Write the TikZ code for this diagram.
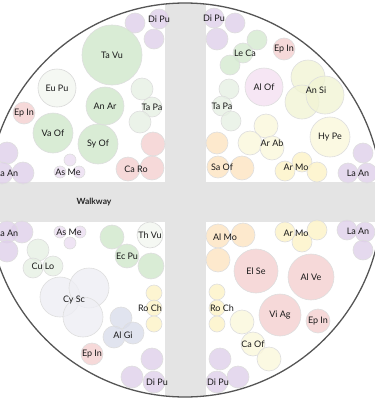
\documentclass[tikz,border=0pt]{standalone}
\usepackage{fontspec}
\setmainfont{Lato}

\definecolor{walkgray}{HTML}{E4E4E4}
\definecolor{rimgray}{HTML}{555555}
\definecolor{cgreen}{HTML}{CFE7CB}
\definecolor{cleca}{HTML}{D4EAD0}
\definecolor{clight}{HTML}{E6F0E3}
\definecolor{cpale}{HTML}{F2F6F0}
\definecolor{cpurple}{HTML}{DFCFEA}
\definecolor{clilac}{HTML}{EBDDF1}
\definecolor{cpink}{HTML}{F4CFCF}
\definecolor{corange}{HTML}{FDE3C0}
\definecolor{cyellow}{HTML}{FDF3C6}
\definecolor{ccream}{HTML}{FAF7DB}
\definecolor{clime}{HTML}{F1F4D4}
\definecolor{cmauve}{HTML}{F4E0F1}
\definecolor{clav}{HTML}{EEEEF4}
\definecolor{cslate}{HTML}{DADDEB}

\begin{document}
\begin{tikzpicture}[x=1pt, y=-1pt,
  plant/.style={draw=black!13, line width=0.6pt, fill opacity=0.8},
  lbl/.style={font=\fontsize{9}{10}\selectfont, text=black!90, inner sep=0pt}]
  \useasboundingbox (0,0) rectangle (375,405);
  \coordinate (O) at (185,200);

  % 走道 (clip to the bed)
  \begin{scope}
    \clip (O) circle (197pt);
    \fill[walkgray] (165,0) rectangle (206,405);
    \fill[walkgray] (0,182) rectangle (375,222);
  \end{scope}

  % 左上区域
  \draw[plant, fill=cpurple] (135,23) circle (10pt);
  \draw[plant, fill=cpurple] (159,19) circle (10pt);
  \draw[plant, fill=cpurple] (154,39) circle (10pt);
  \draw[plant, fill=cgreen] (112,55) circle (30pt);
  \draw[plant, fill=cpale, draw=black!15] (57,88) circle (19pt);
  \draw[plant, fill=cgreen] (105,106) circle (19pt);
  \draw[plant, fill=clight] (142,89) circle (11pt);
  \draw[plant, fill=clight] (152,107) circle (10pt);
  \draw[plant, fill=clight] (140,122) circle (11pt);
  \draw[plant, fill=cpink] (24,113) circle (11pt);
  \draw[plant, fill=cgreen] (53,133) circle (20pt);
  \draw[plant, fill=cgreen] (98,144) circle (20pt);
  \draw[plant, fill=cpink] (153,144) circle (12pt);
  \draw[plant, fill=cpink] (128,169) circle (12pt);
  \draw[plant, fill=cpink] (152,168) circle (12pt);
  \draw[plant, fill=clilac] (70,160) circle (6pt);
  \draw[plant, fill=clilac] (60,172) circle (6pt);
  \draw[plant, fill=clilac] (79,172) circle (6pt);
  \draw[plant, fill=cpurple] (7,153) circle (11pt);
  \draw[plant, fill=cpurple] (23,173) circle (11pt);
  \draw[plant, fill=cpurple] (2,173) circle (11pt);

  \node[lbl] (dipuA) at (159,19)  {Di Pu};
  \node[lbl] (tavu)  at (112,55)  {Ta Vu};
  \node[lbl] (eupu)  at (57,88)   {Eu Pu};
  \node[lbl] (anar)  at (105,106) {An Ar};
  \node[lbl] (tapaA) at (152,107) {Ta Pa};
  \node[lbl] (epinA) at (24,113)  {Ep In};
  \node[lbl] (vaof)  at (53,133)  {Va Of};
  \node[lbl] (syof)  at (98,144)  {Sy Of};
  \node[lbl] (caro)  at (136,169) {Ca Ro};
  \node[lbl] (asmeA) at (68,172)  {As Me};
  \node[lbl] (laanA) at (7,173)   {La An};

  % 右上区域
  \draw[plant, fill=cpurple] (214,18) circle (10pt);
  \draw[plant, fill=cpurple] (235,23) circle (10pt);
  \draw[plant, fill=cpurple] (217,39) circle (11pt);
  \draw[plant, fill=cleca] (257,40) circle (10pt);
  \draw[plant, fill=cleca] (243,53) circle (10pt);
  \draw[plant, fill=cleca] (230,65) circle (10pt);
  \draw[plant, fill=cpink] (284,49) circle (11pt);
  \draw[plant, fill=cmauve] (264,87) circle (19pt);
  \draw[plant, fill=clime] (308,77) circle (17pt);
  \draw[plant, fill=clime] (302,102) circle (17pt);
  \draw[plant, fill=clime] (325,95) circle (19pt);
  \draw[plant, fill=clight] (229,89) circle (10pt);
  \draw[plant, fill=clight] (222,106) circle (10pt);
  \draw[plant, fill=clight] (231,121) circle (10pt);
  \draw[plant, fill=ccream] (330,137) circle (20pt);
  \draw[plant, fill=corange] (217,143) circle (11pt);
  \draw[plant, fill=corange] (218,167) circle (11pt);
  \draw[plant, fill=corange] (242,168) circle (12pt);
  \draw[plant, fill=ccream] (266,126) circle (12pt);
  \draw[plant, fill=ccream] (250,143) circle (12pt);
  \draw[plant, fill=ccream] (272,148) circle (12pt);
  \draw[plant, fill=cyellow] (285,171) circle (10pt);
  \draw[plant, fill=cyellow] (302,162) circle (10pt);
  \draw[plant, fill=cyellow] (317,172) circle (10pt);
  \draw[plant, fill=cpurple] (363,153) circle (10pt);
  \draw[plant, fill=cpurple] (348,173) circle (10pt);
  \draw[plant, fill=cpurple] (367,173) circle (10pt);

  \node[lbl] (dipuB) at (214,18)  {Di Pu};
  \node[lbl] (leca)  at (245,53)  {Le Ca};
  \node[lbl] (epinB) at (284,49)  {Ep In};
  \node[lbl] (alof)  at (264,87)  {Al Of};
  \node[lbl] (ansi)  at (316,90)  {An Si};
  \node[lbl] (tapaB) at (222,106) {Ta Pa};
  \node[lbl] (hype)  at (330,137) {Hy Pe};
  \node[lbl] (arab)  at (272,143) {Ar Ab};
  \node[lbl] (saof)  at (222,167) {Sa Of};
  \node[lbl] (armoA) at (296,167) {Ar Mo};
  \node[lbl] (laanB) at (358,173) {La An};

  % 左下区域
  \draw[plant, fill=cpurple] (22,232) circle (11pt);
  \draw[plant, fill=cpurple] (7,232) circle (11pt);
  \draw[plant, fill=cpurple] (7,251) circle (11pt);
  \draw[plant, fill=clilac] (60,232) circle (6pt);
  \draw[plant, fill=clilac] (80,232) circle (6pt);
  \draw[plant, fill=clilac] (70,243) circle (6pt);
  \draw[plant, fill=clight] (38,250) circle (11pt);
  \draw[plant, fill=clight] (33,268) circle (10pt);
  \draw[plant, fill=clight] (53,266) circle (10pt);
  \draw[plant, fill=cpale, draw=black!15] (150,235) circle (13pt);
  \draw[plant, fill=cgreen] (112,237) circle (12pt);
  \draw[plant, fill=cgreen] (127,256) circle (12pt);
  \draw[plant, fill=cgreen] (151,266) circle (13pt);
  \draw[plant, fill=clav] (60,297) circle (20pt);
  \draw[plant, fill=clav] (89,288) circle (20pt);
  \draw[plant, fill=clav] (83,317) circle (20pt);
  \draw[plant, fill=cyellow] (154,293) circle (8pt);
  \draw[plant, fill=cyellow] (154,308) circle (8pt);
  \draw[plant, fill=cyellow] (154,324) circle (8pt);
  \draw[plant, fill=cslate] (121,318) circle (11pt);
  \draw[plant, fill=cslate] (114,337) circle (11pt);
  \draw[plant, fill=cslate] (133,333) circle (11pt);
  \draw[plant, fill=cpink] (92,354) circle (11pt);
  \draw[plant, fill=cpurple] (152,359) circle (11pt);
  \draw[plant, fill=cpurple] (132,377) circle (11pt);
  \draw[plant, fill=cpurple] (154,382) circle (11pt);

  \node[lbl] (laanC) at (7,233)   {La An};
  \node[lbl] (asmeB) at (69,232)  {As Me};
  \node[lbl] (thvu)  at (150,235) {Th Vu};
  \node[lbl] (ecpu)  at (127,256) {Ec Pu};
  \node[lbl] (culo)  at (43,266)  {Cu Lo};
  \node[lbl] (cysc)  at (74,300)  {Cy Sc};
  \node[lbl] (rochA) at (150,308) {Ro Ch};
  \node[lbl] (algi)  at (123,335) {Al Gi};
  \node[lbl] (epinC) at (92,354)  {Ep In};
  \node[lbl] (dipuC) at (157,382) {Di Pu};

  % 右下区域
  \draw[plant, fill=corange] (218,236) circle (12pt);
  \draw[plant, fill=corange] (243,235) circle (12pt);
  \draw[plant, fill=corange] (218,260) circle (12pt);
  \draw[plant, fill=cyellow] (285,232) circle (10pt);
  \draw[plant, fill=cyellow] (302,242) circle (10pt);
  \draw[plant, fill=cyellow] (317,230) circle (10pt);
  \draw[plant, fill=cpurple] (347,230) circle (10pt);
  \draw[plant, fill=cpurple] (365,232) circle (10pt);
  \draw[plant, fill=cpurple] (363,250) circle (10pt);
  \draw[plant, fill=cpink] (256,271) circle (22pt);
  \draw[plant, fill=cpink] (311,277) circle (23pt);
  \draw[plant, fill=cpink] (280,315) circle (21pt);
  \draw[plant, fill=cpink] (318,321) circle (12pt);
  \draw[plant, fill=cyellow] (217,292) circle (8pt);
  \draw[plant, fill=cyellow] (217,308) circle (8pt);
  \draw[plant, fill=cyellow] (217,324) circle (8pt);
  \draw[plant, fill=ccream] (242,322) circle (12pt);
  \draw[plant, fill=ccream] (253,344) circle (12pt);
  \draw[plant, fill=ccream] (269,359) circle (12pt);
  \draw[plant, fill=cpurple] (220,359) circle (11pt);
  \draw[plant, fill=cpurple] (238,377) circle (11pt);
  \draw[plant, fill=cpurple] (217,382) circle (11pt);

  \node[lbl] (almo)  at (225,237) {Al Mo};
  \node[lbl] (armoB) at (296,233) {Ar Mo};
  \node[lbl] (laanD) at (358,231) {La An};
  \node[lbl] (else)  at (256,271) {El Se};
  \node[lbl] (alve)  at (311,277) {Al Ve};
  \node[lbl] (viag)  at (280,315) {Vi Ag};
  \node[lbl] (epinD) at (318,321) {Ep In};
  \node[lbl] (rochB) at (222,308) {Ro Ch};
  \node[lbl] (caof)  at (253,344) {Ca Of};
  \node[lbl] (dipuD) at (218,382) {Di Pu};

  \node[font=\fontsize{8.5}{10}\selectfont\bfseries, text=black!85] (walk) at (94,202) {Walkway};

  % 外圈
  \draw[rimgray, line width=1.3pt] (O) circle (197pt);
\end{tikzpicture}
\end{document}
